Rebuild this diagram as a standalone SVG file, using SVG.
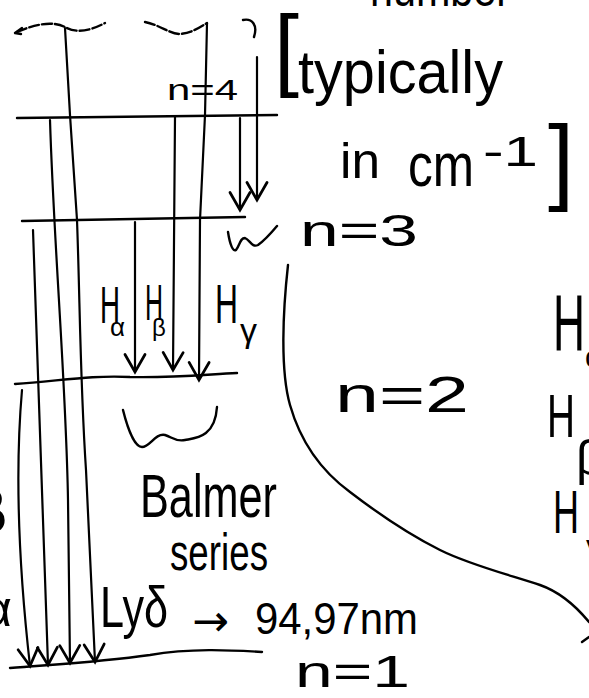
<svg xmlns="http://www.w3.org/2000/svg" width="589" height="698" viewBox="0 0 589 698">
<style>
.ln{fill:none;stroke:#000;stroke-width:2.4;stroke-linecap:round;stroke-linejoin:round}
.ar{fill:none;stroke:#000;stroke-width:2.2;stroke-linecap:round;marker-end:url(#v)}
.t{font-family:"Liberation Sans","DejaVu Sans",sans-serif;fill:#000}
</style>
<defs>
<marker id="v" markerUnits="userSpaceOnUse" markerWidth="30" markerHeight="30" viewBox="-16 -12 20 24" refX="0" refY="0" orient="auto">
<path d="M-14,-8 L0,0 L-14,8" fill="none" stroke="#000" stroke-width="2.2" stroke-linecap="round"/>
</marker>
</defs>
<rect width="589" height="698" fill="#fff"/>

<g id="continuum">
<path class="ln" d="M17,32 C40,22 55,22 65,27 C75,33 88,32 105,23 M145,22 C160,25 170,34 180,34 C192,33 200,27 207,23" stroke-dasharray="10 3"/>
<path class="ln" d="M15,33 L22,28 M15,33 L21,34"/>
<path class="ln" d="M243,20 C252,18 258,25 254,37"/>
</g>

<g id="level-n4">
<path class="ln" d="M17,118 L277,115"/>
<text class="t" x="167" y="100" font-size="30" textLength="71" lengthAdjust="spacingAndGlyphs">n=4</text>
</g>

<g id="level-n3">
<path class="ln" d="M22,221 L245,217"/>
<path class="ln" d="M228,232 C230,245 233,252 236,250 C240,245 240,238 245,238 C250,240 252,248 258,245 C265,240 272,232 277,226"/>
<text class="t" x="300" y="246" font-size="44" textLength="118" lengthAdjust="spacingAndGlyphs">n=3</text>
</g>

<g id="level-n2">
<path class="ln" d="M15,384 C60,381 90,375 130,377 C170,378 200,375 237,373"/>
<text class="t" x="335" y="412" font-size="50" textLength="134" lengthAdjust="spacingAndGlyphs">n=2</text>
</g>

<g id="level-n1">
<path class="ln" d="M10,668 C60,664 100,662 150,655 C190,648 230,650 262,652"/>
<text class="t" x="295" y="687" font-size="44" textLength="115" lengthAdjust="spacingAndGlyphs">n=1</text>
</g>

<g id="connectors">
<path class="ar" d="M22,390 C15,470 18,560 30,666"/>
<path class="ar" d="M33,230 C35,320 40,420 48,665"/>
<path class="ar" d="M50,120 C54,250 66,380 68,500 L70,663"/>
<path class="ar" d="M65,28 L70,115 L77,220 C80,300 80,380 86,470 C90,560 93,620 95,662"/>
<path class="ar" d="M135,222 L135,372"/>
<path class="ar" d="M175,117 L173,370"/>
<path class="ar" d="M207,23 L205,115 L200,220 L199,380"/>
<path class="ar" d="M240,118 L240,210"/>
<path class="ar" d="M257,57 L257,200"/>
</g>

<g id="balmer-labels">
<text class="t" x="100" y="323" font-size="52" textLength="20" lengthAdjust="spacingAndGlyphs">H</text>
<text class="t" x="110" y="336" font-size="26">α</text>
<text class="t" x="145" y="320" font-size="50" textLength="18" lengthAdjust="spacingAndGlyphs">H</text>
<text class="t" x="152" y="336" font-size="24">β</text>
<text class="t" x="215" y="323" font-size="55" textLength="23" lengthAdjust="spacingAndGlyphs">H</text>
<text class="t" x="240" y="342" font-size="34">γ</text>
</g>

<g id="balmer-brace">
<path class="ln" d="M123,410 C128,430 135,447 142,447 C150,447 155,433 165,435 C172,437 175,442 185,440 C195,438 215,438 217,407"/>
<text class="t" x="140" y="517" font-size="62" textLength="137" lengthAdjust="spacingAndGlyphs">Balmer</text>
<text class="t" x="170" y="570" font-size="52" textLength="98" lengthAdjust="spacingAndGlyphs">series</text>
</g>

<g id="lyman-label">
<text class="t" x="100" y="627" font-size="58" textLength="68" lengthAdjust="spacingAndGlyphs">Lyδ</text>
<text x="192" y="636" font-size="44" font-family="'DejaVu Sans',sans-serif" fill="#000">→</text>
<text class="t" x="255" y="634" font-size="44" textLength="163" lengthAdjust="spacingAndGlyphs">94,97nm</text>
</g>

<g id="left-fragments">
<text class="t" x="7" y="532" font-size="60" text-anchor="end">Lyβ</text>
<text class="t" x="12" y="626" font-size="50" text-anchor="end">Lyα</text>
</g>

<g id="units-note">
<text class="t" x="370" y="6" font-size="50" textLength="140" lengthAdjust="spacingAndGlyphs">number</text>
<text class="t" x="274" y="79" font-size="90">[</text>
<text class="t" x="298" y="93" font-size="62" textLength="205" lengthAdjust="spacingAndGlyphs">typically</text>
<text class="t" font-size="50"><tspan x="340" y="178" textLength="40" lengthAdjust="spacingAndGlyphs">in</tspan><tspan x="408" y="186" font-size="62" textLength="66" lengthAdjust="spacingAndGlyphs">cm</tspan><tspan x="483" y="166" font-size="42" textLength="55" lengthAdjust="spacingAndGlyphs">-1</tspan></text>
<text class="t" x="548" y="192" font-size="94">]</text>
</g>

<g id="spectrum-curve">
<path class="ln" d="M288,265 C283,310 280,370 290,405 C300,440 320,470 350,492 C380,515 410,535 440,550 C470,565 510,575 540,585 C560,592 575,605 589,622"/>
<path class="ln" d="M582,642 L589,637"/>
</g>

<g id="right-fragments">
<text class="t" x="553" y="350" font-size="80" textLength="32" lengthAdjust="spacingAndGlyphs">H</text>
<text class="t" x="585" y="367" font-size="30">α</text>
<text class="t" x="547" y="437" font-size="62" textLength="28" lengthAdjust="spacingAndGlyphs">H</text>
<text class="t" x="576" y="475" font-size="50">β</text>
<text class="t" x="553" y="533" font-size="62" textLength="26" lengthAdjust="spacingAndGlyphs">H</text>
<text class="t" x="586" y="556" font-size="30">γ</text>
</g>
</svg>
